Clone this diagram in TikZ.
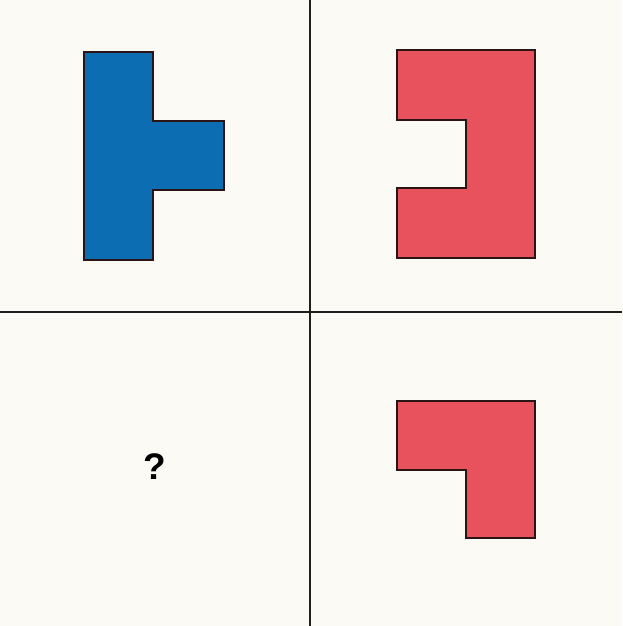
\documentclass[tikz,border=0pt]{standalone}
\usepackage{fontspec}
\setsansfont{Liberation Sans}
\usepackage{xcolor}
\definecolor{PaperBg}{HTML}{FBFAF5}
\definecolor{PieceBlue}{HTML}{0C6DB3}
\definecolor{PieceRed}{HTML}{E8525D}
\definecolor{PieceEdge}{HTML}{2A1416}
\definecolor{GridLine}{HTML}{1E1E1E}
\tikzset{
  grid line/.style={GridLine, line width=1.9pt},
  piece blue/.style={fill=PieceBlue, draw=PieceEdge, line width=1.8pt},
  piece red/.style={fill=PieceRed, draw=PieceEdge, line width=1.8pt},
  query mark/.style={font=\sffamily\bfseries\fontsize{37}{37}\selectfont, text=black}
}
\begin{document}
\begin{tikzpicture}[x=1pt, y=-1pt]
  \fill[PaperBg] (0,0) rectangle (622,626);
  \useasboundingbox (0,0) rectangle (622,626);

  % quadrants
  \draw[grid line] (310,0) -- (310,626);
  \draw[grid line] (0,312) -- (622,312);

  % top left
  \draw[piece blue] (84,52) -- (153,52) -- (153,121) -- (224,121) -- (224,190)
    -- (153,190) -- (153,260) -- (84,260) -- cycle;

  % top right
  \draw[piece red] (397,50) -- (535,50) -- (535,258) -- (397,258) -- (397,188)
    -- (466,188) -- (466,120) -- (397,120) -- cycle;

  % bottom right
  \draw[piece red] (397,401) -- (535,401) -- (535,538) -- (466,538) -- (466,470)
    -- (397,470) -- cycle;

  % bottom left
  \node[query mark] (query) at (155,467) {?};
\end{tikzpicture}
\end{document}
